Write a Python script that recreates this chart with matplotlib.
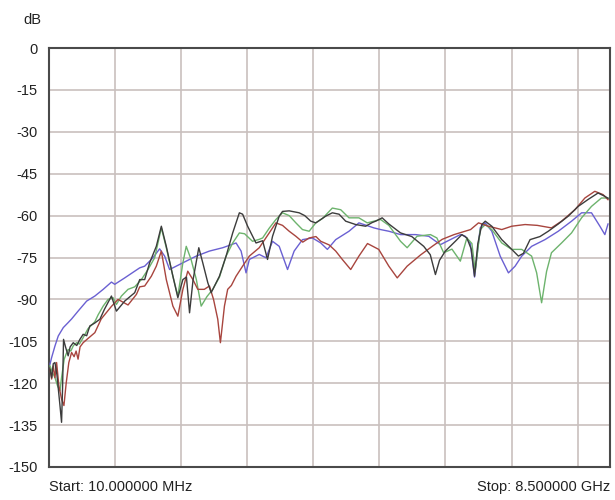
import matplotlib
matplotlib.use("Agg")
import matplotlib.pyplot as plt

# Frequencies in GHz, levels in dB
blue_f = [0.025, 0.05, 0.10, 0.15, 0.226, 0.30, 0.352, 0.45, 0.58, 0.704, 0.83, 0.955, 1.005, 1.156, 1.307, 1.383, 1.458, 1.583, 1.684, 1.76, 1.835, 2.036, 2.238, 2.438, 2.639, 2.841, 2.917, 2.992, 3.042, 3.192, 3.293, 3.393, 3.494, 3.62, 3.72, 3.846, 3.996, 4.123, 4.223, 4.349, 4.55, 4.7, 4.852, 4.927, 5.028, 5.153, 5.33, 5.556, 5.757, 5.933, 6.008, 6.235, 6.31, 6.386, 6.45, 6.536, 6.612, 6.711, 6.838, 6.963, 7.064, 7.164, 7.314, 7.516, 7.717, 7.918, 8.07, 8.22, 8.347, 8.422, 8.47]
blue_db = [-113.2, -110.8, -106.7, -103.1, -100.1, -98.3, -97.0, -94.2, -90.6, -88.8, -86.4, -83.8, -84.6, -82.3, -79.9, -78.7, -78.1, -75.1, -71.9, -74.5, -79.3, -76.9, -74.5, -72.7, -71.5, -69.8, -72.7, -80.5, -75.7, -73.9, -75.1, -69.2, -71.0, -79.3, -72.7, -68.6, -68.0, -69.8, -72.1, -68.6, -65.6, -62.6, -63.8, -64.4, -65.0, -65.6, -66.8, -66.8, -67.4, -70.4, -69.5, -66.8, -67.4, -70.0, -82.0, -64.4, -62.6, -65.6, -74.5, -80.5, -78.1, -74.5, -71.0, -68.6, -65.6, -62.0, -59.0, -59.0, -63.8, -66.8, -63.0]

green_f = [0.025, 0.06, 0.10, 0.14, 0.176, 0.20, 0.24, 0.27, 0.30, 0.34, 0.38, 0.428, 0.47, 0.527, 0.60, 0.704, 0.754, 0.83, 0.904, 0.98, 1.03, 1.106, 1.206, 1.307, 1.408, 1.508, 1.609, 1.71, 1.785, 1.885, 1.96, 2.036, 2.087, 2.16, 2.24, 2.313, 2.40, 2.488, 2.59, 2.69, 2.79, 2.891, 2.97, 3.09, 3.192, 3.243, 3.343, 3.444, 3.544, 3.645, 3.746, 3.846, 3.947, 4.048, 4.15, 4.298, 4.425, 4.55, 4.7, 4.826, 4.927, 5.028, 5.153, 5.33, 5.43, 5.58, 5.783, 5.88, 5.983, 6.108, 6.235, 6.334, 6.41, 6.46, 6.536, 6.612, 6.711, 6.862, 7.013, 7.164, 7.314, 7.39, 7.465, 7.54, 7.614, 7.767, 7.918, 8.07, 8.22, 8.37, 8.47]
green_db = [-113.8, -116.0, -118.0, -121.0, -122.7, -118.0, -111.4, -109.5, -107.9, -108.5, -106.5, -105.5, -106.0, -103.7, -100.5, -98.0, -95.5, -92.4, -90.0, -89.4, -91.8, -88.8, -86.4, -85.5, -82.9, -79.3, -75.1, -64.4, -71.5, -81.7, -88.8, -76.9, -71.0, -75.7, -82.9, -92.4, -89.0, -86.4, -82.0, -74.5, -69.8, -66.2, -66.5, -69.2, -68.5, -68.0, -64.5, -61.4, -59.0, -60.0, -62.6, -65.0, -65.6, -62.6, -61.0, -57.3, -57.9, -60.8, -60.8, -62.6, -62.0, -61.4, -63.5, -69.2, -71.5, -67.4, -66.8, -68.0, -73.3, -72.0, -76.3, -68.0, -70.0, -79.9, -65.0, -63.2, -65.0, -69.8, -72.1, -72.1, -74.5, -80.5, -91.2, -80.0, -73.3, -69.8, -66.2, -60.8, -56.7, -53.7, -53.7]

red_f = [0.025, 0.05, 0.075, 0.10, 0.125, 0.16, 0.20, 0.236, 0.27, 0.31, 0.352, 0.39, 0.42, 0.45, 0.48, 0.527, 0.60, 0.704, 0.80, 0.955, 1.055, 1.206, 1.333, 1.383, 1.458, 1.559, 1.634, 1.71, 1.785, 1.885, 1.96, 2.036, 2.11, 2.19, 2.262, 2.36, 2.438, 2.50, 2.564, 2.604, 2.665, 2.714, 2.77, 2.841, 2.94, 3.042, 3.192, 3.343, 3.444, 3.544, 3.645, 3.746, 3.85, 3.947, 4.05, 4.123, 4.25, 4.349, 4.449, 4.576, 4.70, 4.83, 5.0, 5.153, 5.28, 5.43, 5.632, 5.81, 5.96, 6.14, 6.39, 6.51, 6.66, 6.862, 7.013, 7.215, 7.4, 7.614, 7.767, 7.969, 8.12, 8.27, 8.396, 8.47]
red_db = [-115.0, -118.5, -113.8, -118.0, -112.6, -121.0, -125.7, -128.0, -120.0, -112.6, -109.0, -110.5, -108.5, -111.4, -107.0, -105.5, -104.0, -101.9, -97.0, -92.5, -90.0, -92.0, -88.2, -85.5, -85.2, -81.7, -78.1, -72.7, -82.9, -92.4, -96.0, -86.4, -79.9, -83.0, -86.4, -86.4, -85.2, -90.0, -97.1, -105.5, -92.4, -86.4, -85.0, -81.7, -78.1, -74.5, -71.5, -66.2, -62.6, -63.5, -65.6, -67.4, -69.5, -68.0, -67.5, -69.2, -70.5, -72.7, -75.7, -79.3, -74.5, -70.0, -72.1, -78.1, -82.3, -78.1, -74.1, -71.0, -68.5, -66.8, -65.0, -62.6, -63.8, -65.0, -63.8, -63.2, -63.5, -64.4, -62.0, -57.9, -53.7, -51.3, -52.5, -54.3]

black_f = [0.025, 0.05, 0.075, 0.10, 0.13, 0.176, 0.20, 0.215, 0.23, 0.26, 0.30, 0.33, 0.377, 0.43, 0.478, 0.527, 0.58, 0.628, 0.70, 0.78, 0.85, 0.955, 1.03, 1.156, 1.307, 1.383, 1.458, 1.533, 1.634, 1.71, 1.785, 1.885, 1.96, 2.036, 2.09, 2.137, 2.19, 2.277, 2.337, 2.413, 2.464, 2.589, 2.69, 2.79, 2.891, 2.94, 3.016, 3.117, 3.143, 3.243, 3.317, 3.393, 3.494, 3.544, 3.645, 3.796, 3.88, 3.972, 4.048, 4.198, 4.298, 4.4, 4.5, 4.651, 4.802, 4.9, 4.953, 5.052, 5.153, 5.33, 5.50, 5.681, 5.78, 5.858, 5.92, 6.008, 6.159, 6.259, 6.334, 6.40, 6.45, 6.50, 6.56, 6.612, 6.711, 6.862, 7.013, 7.114, 7.19, 7.29, 7.44, 7.566, 7.717, 7.868, 8.019, 8.17, 8.32, 8.422, 8.47]
black_db = [-115.0, -118.0, -113.0, -112.6, -117.0, -128.0, -134.0, -122.0, -104.3, -107.0, -110.2, -107.0, -105.5, -106.5, -104.3, -102.5, -103.0, -99.5, -98.5, -97.1, -93.5, -88.8, -94.2, -90.6, -87.6, -82.9, -82.9, -76.9, -71.0, -63.8, -71.0, -81.7, -89.4, -82.9, -82.0, -94.8, -83.0, -71.5, -76.9, -84.0, -87.6, -81.7, -74.5, -66.2, -59.0, -59.5, -63.8, -68.6, -69.8, -69.0, -75.7, -67.4, -60.2, -58.5, -58.3, -59.0, -60.0, -62.0, -62.6, -60.2, -59.0, -59.5, -62.0, -63.2, -63.8, -62.5, -62.0, -60.8, -63.0, -66.2, -67.5, -71.0, -74.0, -81.1, -76.0, -72.7, -69.2, -66.8, -68.0, -72.0, -81.7, -70.0, -63.2, -62.0, -63.8, -68.6, -72.1, -74.5, -73.5, -68.6, -67.5, -65.6, -63.0, -60.2, -56.7, -54.2, -51.9, -53.1, -53.8]

y_ticks = [0, -15, -30, -45, -60, -75, -90, -105, -120, -135, -150]
f_start, f_stop = 0.01, 8.5
grid_step = 1.0

plt.rcParams['font.family'] = ['Liberation Sans', 'DejaVu Sans']

fig = plt.figure(figsize=(6.15, 5.0), dpi=100)
ax = fig.add_axes([49/615, 1-467/500, (610-49)/615, (467-48)/500])

ax.set_xlim(f_start, f_stop)
ax.set_ylim(-150, 0)

grid_c = '#c9c0be'
xg = [f_start + grid_step*k for k in range(1, 9)]
for x in xg:
    ax.axvline(x, color=grid_c, lw=1.2, zorder=1)
for y in y_ticks[1:-1]:
    ax.axhline(y, color=grid_c, lw=1.2, zorder=1)

ax.plot(blue_f, blue_db, color='#6a60d2', lw=1.0, zorder=3)
ax.plot(green_f, green_db, color='#6db36d', lw=1.0, zorder=3)
ax.plot(red_f, red_db, color='#a8453e', lw=1.0, zorder=3)
ax.plot(black_f, black_db, color='#3c3c3c', lw=1.0, zorder=4)

ax.set_xticks([])
ax.set_yticks(y_ticks)
ax.set_yticklabels([str(v) for v in y_ticks], fontsize=10.5, color='#222222')
ax.tick_params(axis='y', length=0, pad=8)
for s in ax.spines.values():
    s.set_color('#4a4a4a')
    s.set_linewidth(1.5)

fig.text(23/615, 1-20/500, 'dB', fontsize=10.5, color='#222222', ha='left', va='center')
fig.text(49/615, 1-487/500, 'Start: 10.000000 MHz', fontsize=10.5, color='#222222', ha='left', va='center')
fig.text(610/615, 1-487/500, 'Stop: 8.500000 GHz', fontsize=10.5, color='#222222', ha='right', va='center')

fig.savefig('out.png', dpi=100)
